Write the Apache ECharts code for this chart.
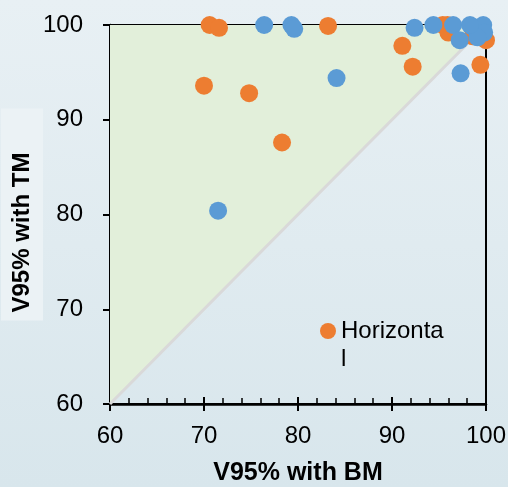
<!DOCTYPE html>
<html>
<head>
<meta charset="utf-8">
<script src="https://cdn.jsdelivr.net/npm/echarts@6/dist/echarts.min.js"></script>
<style>
  html, body { margin: 0; padding: 0; }
  #chart { width: 508px; height: 487px; }
</style>
</head>
<body>
<div id="chart"></div>
<script>
// V95% with BM (x) vs V95% with TM (y)
const horizontalPoints = [
  [70.6, 100], [71.6, 99.7], [70.0, 93.6], [74.8, 92.8], [78.3, 87.6],
  [83.2, 99.9], [91.1, 97.8], [92.2, 95.6], [99.4, 95.8], [100, 98.4],
  [96.1, 99.5], [98.6, 98.8], [95.9, 100], [95.4, 100], [96.0, 99.2]
];
const verticalPoints = [
  [76.4, 100], [79.3, 100], [79.6, 99.6], [84.1, 94.4], [71.5, 80.4],
  [92.4, 99.7], [94.4, 100], [96.5, 100], [97.2, 98.4], [97.3, 94.9],
  [98.6, 99.8], [99.7, 100], [99.8, 99.2], [99.1, 98.7], [98.3, 100]
];
const identityLine = [[60, 60], [100, 100]];
const axisMin = 60;
const axisMax = 100;

const chart = echarts.init(document.getElementById('chart'), null, { renderer: 'canvas' });

const font = 'Liberation Sans, Arial, sans-serif';

function baseAxis(extra) {
  return Object.assign({
    type: 'value',
    min: axisMin,
    max: axisMax,
    interval: 10,
    splitLine: { show: false },
    axisLine: { show: true, onZero: false, lineStyle: { color: '#000', width: 2.5 } },
    axisTick: { show: true, inside: false, length: 7, lineStyle: { color: '#000', width: 2 } },
    minorTick: { show: false }
  }, extra);
}

const option = {
  animation: false,
  backgroundColor: new echarts.graphic.LinearGradient(0, 0, 0, 1, [
    { offset: 0, color: '#e8f0f4' },
    { offset: 1, color: '#d8e6ec' }
  ]),
  textStyle: { fontFamily: font },
  grid: {
    left: 110, top: 25, right: 22, bottom: 83,
    containLabel: false,
    outerBoundsMode: 'none',
    show: true,
    borderColor: '#000',
    borderWidth: 2,
    backgroundColor: 'transparent'
  },
  legend: {
    data: ['Horizontal'],
    left: 315,
    top: 284,
    icon: 'circle',
    itemWidth: 16,
    itemHeight: 16,
    itemGap: 6,
    // empty first line keeps the marker level with the first text line
    formatter: function () { return ' \nHorizonta\nl'; },
    textStyle: {
      fontFamily: font,
      fontSize: 24,
      color: '#000',
      lineHeight: 28
    }
  },
  xAxis: [
    baseAxis({
      name: 'V95% with BM',
      nameLocation: 'middle',
      nameGap: 57,
      nameMoveOverlap: false,
      nameTextStyle: { fontFamily: font, fontSize: 25, fontWeight: 'bold', color: '#000' },
      axisLabel: { fontFamily: font, fontSize: 24, color: '#000', margin: 20 }
    }),
    baseAxis({
      position: 'bottom',
      axisLine: { show: false },
      axisLabel: { show: false },
      axisTick: { show: true, inside: true, length: 7, lineStyle: { color: '#000', width: 2 } },
      minorTick: { show: true, splitNumber: 5, length: 6, lineStyle: { color: '#000', width: 1.5 } }
    })
  ],
  yAxis: [
    baseAxis({
      name: 'V95% with TM',
      nameLocation: 'middle',
      nameRotate: 90,
      nameGap: 67,
      nameMoveOverlap: false,
      nameTextStyle: {
        fontFamily: font, fontSize: 24, fontWeight: 'bold', color: '#000',
        backgroundColor: '#ebf2f5',
        padding: [9, 44, 9, 8]
      },
      axisLabel: { fontFamily: font, fontSize: 24, color: '#000', margin: 27 }
    }),
    baseAxis({
      position: 'left',
      axisLine: { show: false },
      axisLabel: { show: false },
      axisTick: { show: true, inside: true, length: 7, lineStyle: { color: '#000', width: 2 } },
      minorTick: { show: true, splitNumber: 5, length: 7, lineStyle: { color: '#000', width: 1.5 } }
    })
  ],
  series: [
    {
      name: 'Identity',
      type: 'line',
      data: identityLine,
      symbol: 'none',
      lineStyle: { color: '#d9d9d9', width: 3 },
      areaStyle: { origin: 'end', color: '#e2efda', opacity: 1 },
      z: 1
    },
    {
      name: 'Horizontal',
      type: 'scatter',
      data: horizontalPoints,
      symbolSize: 18,
      clip: false,
      itemStyle: { color: '#ed7d31', opacity: 1 },
      z: 3
    },
    {
      name: 'Vertical',
      type: 'scatter',
      data: verticalPoints,
      symbolSize: 18,
      clip: false,
      itemStyle: { color: '#5b9bd5', opacity: 1 },
      z: 4
    }
  ]
};

chart.setOption(option);
</script>
</body>
</html>
